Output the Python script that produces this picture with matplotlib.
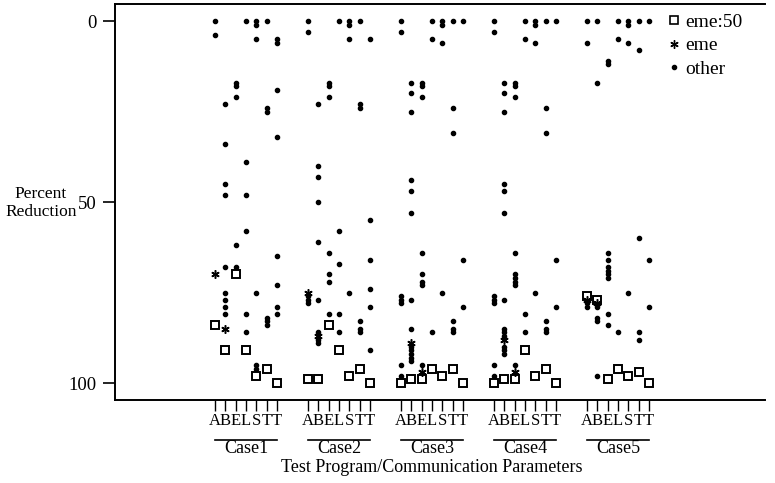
import matplotlib
matplotlib.use("Agg")
import matplotlib.pyplot as plt
from matplotlib.lines import Line2D
import matplotlib.transforms as mtransforms

plt.rcParams['font.family'] = ['Liberation Serif', 'DejaVu Serif']

# ---------------- data ----------------
cases = ["Case1", "Case2", "Case3", "Case4", "Case5"]
params = ["A", "B", "E", "L", "S", "T", "T"]

# eme:50 (squares), one value per parameter column
eme50_case1 = [84, 91, 70, 91, 98, 96, 100]
eme50_case2 = [99, 99, 84, 91, 98, 96, 100]
eme50_case3 = [100, 99, 99, 96, 98, 96, 100]
eme50_case4 = [100, 99, 99, 91, 98, 96, 100]
eme50_case5 = [76, 77, 99, 96, 98, 97, 100]

# eme (asterisks), None where absent
eme_case1 = [70, 85, None, None, None, None, None]
eme_case2 = [75, 87, None, None, None, None, None]
eme_case3 = [None, 89, 97, None, None, None, None]
eme_case4 = [None, 88, 97, None, None, None, None]
eme_case5 = [77, 78, None, None, None, None, None]

# other (dots), list of values per parameter column
other_case1 = [[0, 4], [23, 34, 45, 48, 68, 75, 77, 79, 81], [17, 18, 21, 62, 68],
               [0, 39, 48, 58, 81, 86], [0, 1, 5, 75, 95, 96], [0, 24, 25, 82, 83, 84],
               [5, 6, 19, 32, 65, 73, 79, 81]]
other_case2 = [[0, 3, 76, 77, 78], [23, 40, 43, 50, 61, 77, 86, 88, 89], [17, 18, 21, 64, 70, 72, 81],
               [0, 58, 67, 81, 86], [0, 1, 5, 75], [0, 23, 24, 83, 85, 86],
               [5, 55, 66, 74, 79, 91]]
other_case3 = [[0, 3, 76, 77, 78, 95, 98], [17, 20, 25, 44, 47, 53, 77, 85, 90, 91, 92, 93, 94],
               [17, 18, 21, 64, 70, 72, 73, 95], [0, 5, 86], [0, 1, 6, 75], [0, 24, 31, 83, 85, 86],
               [0, 66, 79]]
other_case4 = [[0, 3, 76, 77, 78, 95, 98], [17, 20, 25, 45, 47, 53, 77, 85, 86, 87, 90, 91, 92],
               [17, 18, 21, 64, 70, 71, 72, 73, 95], [0, 5, 81, 86], [0, 1, 6, 75], [0, 24, 31, 83, 85, 86],
               [0, 66, 79]]
other_case5 = [[0, 6, 78, 79], [0, 17, 79, 82, 83, 98], [11, 12, 64, 66, 68, 69, 70, 71, 81, 84],
               [0, 5, 86], [0, 1, 6, 75], [0, 8, 60, 86, 88], [0, 66, 79]]

yticks = [0, 50, 100]

eme50_all = [eme50_case1, eme50_case2, eme50_case3, eme50_case4, eme50_case5]
eme_all = [eme_case1, eme_case2, eme_case3, eme_case4, eme_case5]
other_all = [other_case1, other_case2, other_case3, other_case4, other_case5]

# ---------------- figure ----------------
W, H = 775, 483
fig = plt.figure(figsize=(W / 100, H / 100), dpi=100)
ax = fig.add_axes([115 / W, 1 - 400 / H, (765 - 115) / W, (400 - 4) / H])

GAP = 9  # column positions per case block
FS = 13.5

xpos_all = []
for k in range(len(cases)):
    xs = [GAP * k + j for j in range(len(params))]
    xpos_all.extend(xs)
    # other
    ox, oy = [], []
    for x, vals in zip(xs, other_all[k]):
        ox.extend([x] * len(vals))
        oy.extend(vals)
    ax.plot(ox, oy, ls='none', marker='o', ms=3.0, color='black', zorder=2, clip_on=False)
    # eme
    ex = [x for x, v in zip(xs, eme_all[k]) if v is not None]
    ey = [v for v in eme_all[k] if v is not None]
    ax.plot(ex, ey, ls='none', marker=(6, 2, 0), ms=6, mew=1.1, color='black', zorder=4, clip_on=False)
    # eme:50
    ax.plot(xs, eme50_all[k], ls='none', marker='s', ms=5.2, mfc='white', mec='black',
            mew=1.4, zorder=3, clip_on=False)

ax.set_xlim((115 - 215) / 10.33, (765 - 215) / 10.33)
ax.set_ylim((400 - 21) / 3.62, (4 - 21) / 3.62)

ax.set_yticks(yticks)
ax.set_yticklabels([str(v) for v in yticks], fontsize=FS)
ax.set_xticks(xpos_all)
ax.set_xticklabels(params * len(cases), fontsize=12)
ax.tick_params(axis='y', direction='out', length=9, width=1.2, pad=4)
ax.tick_params(axis='x', direction='out', length=8, width=1.0, pad=1.5)

for s in ['left', 'top', 'bottom']:
    ax.spines[s].set_linewidth(1.4)
ax.spines['right'].set_visible(False)

trans = mtransforms.blended_transform_factory(ax.transData, ax.transAxes)
for k, name in enumerate(cases):
    x0, x1 = GAP * k, GAP * k + len(params) - 1
    ax.add_line(Line2D([x0, x1], [-0.101, -0.101], color='black', lw=1.2,
                       transform=trans, clip_on=False))
    ax.text((x0 + x1) / 2, -0.101, name, transform=trans, ha='center', va='top', fontsize=13)

ax.text(21, -0.150, "Test Program/Communication Parameters", transform=trans,
        ha='center', va='top', fontsize=13)

fig.text(41 / W, 1 - 203 / H, "Percent\nReduction", ha='center', va='center',
         fontsize=12.5, linespacing=1.1)

handles = [
    Line2D([], [], ls='none', marker='s', ms=6, mfc='white', mec='black', mew=1.2, label='eme:50'),
    Line2D([], [], ls='none', marker=(6, 2, 0), ms=6, mew=1.0, color='black', label='eme'),
    Line2D([], [], ls='none', marker='o', ms=3, color='black', label='other'),
]
ax.legend(handles=handles, loc='upper left', bbox_to_anchor=((668 - 115) / 650, (400 - 13) / 396),
          frameon=False, fontsize=14, handlelength=0.6, handletextpad=0.3, borderpad=0,
          borderaxespad=0, labelspacing=0.32)

fig.savefig("out.png", dpi=100)
